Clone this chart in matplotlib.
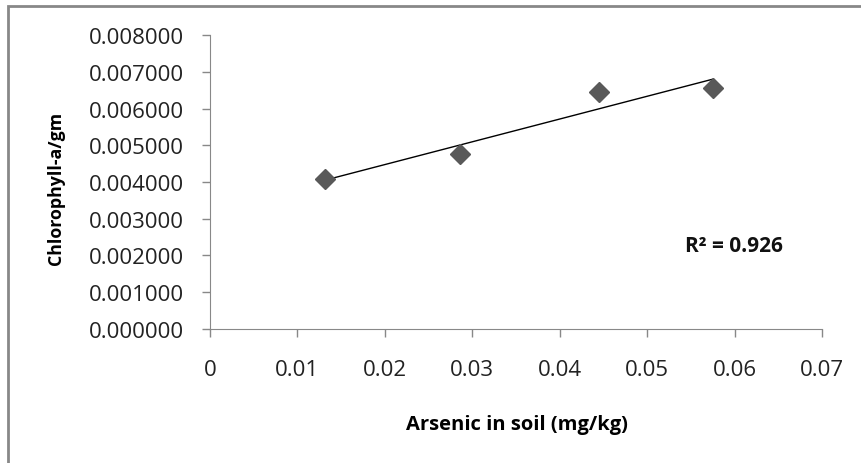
import numpy as np
import matplotlib.pyplot as plt
from matplotlib.patches import Rectangle
from matplotlib.ticker import FormatStrFormatter

plt.rcParams['font.family'] = ['Open Sans', 'DejaVu Sans']

arsenic = [0.0132, 0.0286, 0.0445, 0.0575]
chlorophyll = [0.00408, 0.00476, 0.00645, 0.00656]
x_ticks = [0, 0.01, 0.02, 0.03, 0.04, 0.05, 0.06, 0.07]
y_ticks = [0, 0.001, 0.002, 0.003, 0.004, 0.005, 0.006, 0.007, 0.008]

fig = plt.figure(figsize=(8.62, 4.64), dpi=100)
fig.patches.append(Rectangle((8 / 862, -0.1), 1.2, 1 - 7 / 464 + 0.1,
                             transform=fig.transFigure, fill=False,
                             edgecolor='#888888', linewidth=2))
ax = fig.add_axes([0.2436, 0.2888, 0.71, 0.6336])

# linear trendline fitted to the points
slope, intercept = np.polyfit(arsenic, chlorophyll, 1)
xs = np.array([min(arsenic), max(arsenic)])
ax.plot(xs, slope * xs + intercept, color='black', linewidth=1, zorder=2)
ax.plot(arsenic, chlorophyll, linestyle='none', marker='D', markersize=10.5,
        color='#595959', zorder=3)

ax.set_xlim(0, 0.07)
ax.set_ylim(0, 0.008)
ax.set_xticks(x_ticks)
ax.set_xticklabels(['0' if t == 0 else f'{t:.2f}' for t in x_ticks])
ax.set_yticks(y_ticks)
ax.yaxis.set_major_formatter(FormatStrFormatter('%.6f'))

for side in ['top', 'right']:
    ax.spines[side].set_visible(False)
for side in ['left', 'bottom']:
    ax.spines[side].set_color('#888888')
ax.tick_params(axis='both', colors='#888888', length=6, width=1,
               labelsize=16, labelcolor='#222222')
ax.tick_params(axis='x', pad=15.5)
ax.tick_params(axis='y', pad=12.5)

ax.set_xlabel('Arsenic in soil (mg/kg)', fontsize=14.5, fontweight='bold')
ax.xaxis.set_label_coords(0.5016, -0.29)
ax.set_ylabel('Chlorophyll-a/gm', fontsize=12.8, fontweight='bold')
ax.yaxis.set_label_coords(-0.237, 0.48)

ax.text(0.05435, 0.00212, 'R² = 0.926', fontsize=15, fontweight='bold',
        color='#111111', va='baseline')

fig.savefig('out.png', dpi=100)
